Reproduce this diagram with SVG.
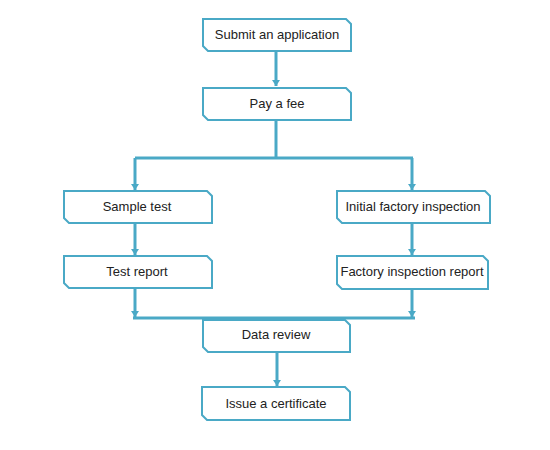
<svg xmlns="http://www.w3.org/2000/svg" width="550" height="450" viewBox="0 0 550 450">
<defs>
<style>
.box{fill:#fff;stroke:#4aa9c6;stroke-width:2}
.lbl{font-family:"Liberation Sans",Arial,sans-serif;font-size:13px;fill:#222;text-anchor:middle}
.con{fill:none;stroke:#4aa9c6;stroke-width:3}
</style>
<marker id="ah" markerWidth="6" markerHeight="8" refX="6" refY="4" orient="auto" markerUnits="userSpaceOnUse" viewBox="0 0 6 8">
<path d="M0,0 L6,4 L0,8 Z" fill="#4aa9c6"/>
</marker>
</defs>
<rect width="550" height="450" fill="#fff"/>
<g id="connectors">
<path class="con" d="M276,52 V86" marker-end="url(#ah)"/>
<path class="con" d="M276,121 V158"/>
<path class="con" d="M135,158 H413"/>
<path class="con" d="M135,158 V190" marker-end="url(#ah)"/>
<path class="con" d="M412,158 V190" marker-end="url(#ah)"/>
<path class="con" d="M135,223 V255" marker-end="url(#ah)"/>
<path class="con" d="M412,223 V255" marker-end="url(#ah)"/>
<path class="con" d="M135,288 V317" marker-end="url(#ah)"/>
<path class="con" d="M412,289 V317" marker-end="url(#ah)"/>
<path class="con" d="M133,318 H415"/>
<path class="con" d="M277,352 V386" marker-end="url(#ah)"/>
</g>
<g id="n1"><path class="box" d="M203,19 H346 L351,24 V51 H208 L203,46 Z"/><text class="lbl" x="277" y="39">Submit an application</text></g>
<g id="n2"><path class="box" d="M203,88 H346 L351,93 V120 H208 L203,115 Z"/><text class="lbl" x="277" y="108">Pay a fee</text></g>
<g id="n3"><path class="box" d="M64,191 H207 L212,196 V223 H69 L64,218 Z"/><text class="lbl" x="137" y="211">Sample test</text></g>
<g id="n4"><path class="box" d="M64,256 H207 L212,261 V288 H69 L64,283 Z"/><text class="lbl" x="137" y="276">Test report</text></g>
<g id="n5"><path class="box" d="M337,191 H485 L490,196 V223 H342 L337,218 Z"/><text class="lbl" x="413" y="211">Initial factory inspection</text></g>
<g id="n6"><path class="box" d="M337,256 H483 L488,261 V289 H342 L337,284 Z"/><text class="lbl" x="412" y="276">Factory inspection report</text></g>
<g id="n7"><path class="box" d="M203,320 H345 L350,325 V352 H208 L203,347 Z"/><text class="lbl" x="276" y="339">Data review</text></g>
<g id="n8"><path class="box" d="M202,387 H345 L350,392 V420 H207 L202,415 Z"/><text class="lbl" x="276" y="408">Issue a certificate</text></g>
</svg>
